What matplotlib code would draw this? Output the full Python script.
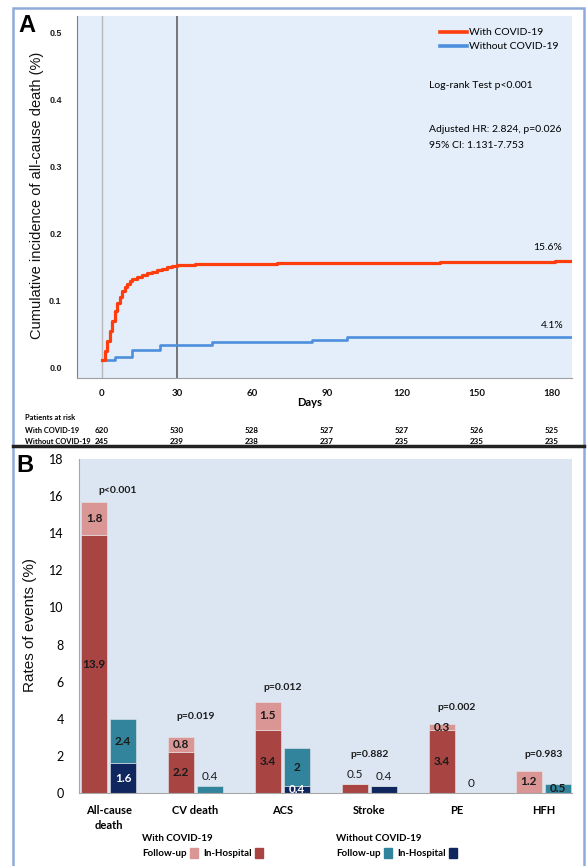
import numpy as np
import matplotlib.pyplot as plt
import matplotlib.transforms as mtransforms
from matplotlib.patches import Rectangle, Patch
from matplotlib.lines import Line2D

# ---- panel A data (Kaplan-Meier style cumulative incidence) ----
red_days = [0, 1, 2, 3, 4, 5, 6, 7, 8, 9, 10, 11, 12, 14, 16, 18, 20, 22,
            24, 26, 28, 30, 37, 58, 70, 135, 181, 188]
red_vals = [0.012, 0.025, 0.040, 0.055, 0.070, 0.085, 0.097, 0.106, 0.114,
            0.120, 0.125, 0.129, 0.132, 0.136, 0.139, 0.141, 0.143, 0.146,
            0.148, 0.150, 0.152, 0.153, 0.154, 0.155, 0.156, 0.157, 0.159, 0.159]
blue_days = [0, 5, 12, 23, 44, 84, 98, 188]
blue_vals = [0.012, 0.016, 0.027, 0.034, 0.038, 0.042, 0.046, 0.046]
risk_days = [0, 30, 60, 90, 120, 150, 180]
risk_with = [620, 530, 528, 527, 527, 526, 525]
risk_without = [245, 239, 238, 237, 235, 235, 235]

# ---- panel B data (rates of events, %) ----
categories = ['All-cause\ndeath', 'CV death', 'ACS', 'Stroke', 'PE', 'HFH']
with_inhosp = [13.9, 2.2, 3.4, 0.5, 3.4, 0.0]
with_follow = [1.8, 0.8, 1.5, 0.0, 0.3, 1.2]
wo_inhosp = [1.6, 0.0, 0.4, 0.4, 0.0, 0.0]
wo_follow = [2.4, 0.4, 2.0, 0.0, 0.0, 0.5]
pvalues = ['p<0.001', 'p=0.019', 'p=0.012', 'p=0.882', 'p=0.002', 'p=0.983']
p_heights = [16.3, 4.1, 5.7, 2.1, 4.6, 2.1]

W, H = 587, 866
CAL = 'Lato'
ARI = 'Liberation Sans'


def fx(x):
    return x / W


def fy(y):
    return 1 - y / H


fig = plt.figure(figsize=(W / 100, H / 100), dpi=100)
fig.patch.set_facecolor('white')

# outer frame + separator
fig.patches.append(Rectangle((fx(13), fy(872)), fx(584) - fx(13), fy(8) - fy(872),
                             transform=fig.transFigure, fill=False,
                             edgecolor='#8eaadb', lw=1.8, zorder=0))
fig.add_artist(Line2D([fx(13), fx(584)], [fy(446), fy(446)], color='#222222',
                      lw=2.5, transform=fig.transFigure))

# ================= Panel A =================
axA = fig.add_axes([fx(77), fy(378), fx(572) - fx(77), fy(16) - fy(378)])
axA.set_facecolor('#e3eefa')
axA.set_xlim(-10, 188)
axA.set_ylim(-0.015, 0.524)
for s in ['top', 'right']:
    axA.spines[s].set_visible(False)
axA.spines['left'].set_color('#7f7f7f')
axA.spines['bottom'].set_color('#a0a0a0')

axA.axvline(0, color='#b8b8b8', lw=1.0, zorder=1)
axA.axvline(30, color='#555555', lw=1.1, zorder=1)

axA.step(red_days, red_vals, where='post', color='#ff3d0d', lw=2.3,
         label='With COVID-19', zorder=3)
axA.step(blue_days, blue_vals, where='post', color='#4d8fdc', lw=1.9,
         label='Without COVID-19', zorder=2)

axA.set_xticks(risk_days)
axA.set_yticks([0.0, 0.1, 0.2, 0.3, 0.4, 0.5])
axA.set_yticklabels(['0.0', '0.1', '0.2', '0.3', '0.4', '0.5'])
axA.tick_params(axis='both', length=0)
axA.tick_params(axis='y', pad=11)
axA.tick_params(axis='x', pad=8)
for lab in axA.get_yticklabels():
    lab.set_fontfamily(ARI)
    lab.set_fontweight('bold')
    lab.set_fontsize(6.5)
    lab.set_color('#222222')
for lab in axA.get_xticklabels():
    lab.set_fontfamily(CAL)
    lab.set_fontweight('bold')
    lab.set_fontsize(7)
    lab.set_color('#111111')

fig.text(fx(37), fy(195), 'Cumulative incidence of all-cause death (%)',
         rotation=90, ha='center', va='center', fontsize=10.5, family=ARI,
         color='#111111')
fig.text(fx(27), fy(25), 'A', ha='center', va='center', fontsize=17,
         family=ARI, fontweight='bold')

legA = axA.legend(loc='upper left', bbox_to_anchor=(fx(440), fy(28)),
                  bbox_transform=fig.transFigure, frameon=False,
                  prop={'family': CAL, 'size': 7.5}, handlelength=2.6,
                  handletextpad=0.15, labelspacing=0.45, borderpad=0,
                  borderaxespad=0)
for line in legA.get_lines():
    line.set_linewidth(2.6)

fig.text(fx(429), fy(85), 'Log-rank Test p<0.001', ha='left', va='center',
         fontsize=7.5, family=CAL)
fig.text(fx(429), fy(130), 'Adjusted HR: 2.824, p=0.026', ha='left',
         va='center', fontsize=7.5, family=CAL)
fig.text(fx(429), fy(145), '95% CI: 1.131-7.753', ha='left', va='center',
         fontsize=7.5, family=CAL)
fig.text(fx(548), fy(248), '15.6%', ha='center', va='center', fontsize=7.5,
         family=CAL)
fig.text(fx(552), fy(325), '4.1%', ha='center', va='center', fontsize=7.5,
         family=CAL)

fig.text(fx(310), fy(403), 'Days', ha='center', va='center', fontsize=8,
         family=CAL, fontweight='bold')

trA = mtransforms.blended_transform_factory(axA.transData, fig.transFigure)
row_kw = dict(ha='left', va='center', fontsize=5.4, family=CAL,
              fontweight='bold')
fig.text(fx(25), fy(418), 'Patients at risk', **row_kw)
fig.text(fx(25), fy(431), 'With COVID-19', **row_kw)
fig.text(fx(25), fy(441), 'Without COVID-19', **row_kw)
for d, a, b in zip(risk_days, risk_with, risk_without):
    axA.text(d, fy(431), str(a), transform=trA, ha='center', va='center',
             fontsize=5.8, family=CAL, fontweight='bold')
    axA.text(d, fy(441), str(b), transform=trA, ha='center', va='center',
             fontsize=5.8, family=CAL, fontweight='bold')

# ================= Panel B =================
axB = fig.add_axes([fx(79), fy(793), fx(572) - fx(79), fy(459) - fy(793)])
axB.set_facecolor('#dce6f2')
axB.set_xlim(-0.34, 5.33)
axB.set_ylim(0, 18)
for s in ['top', 'right']:
    axB.spines[s].set_visible(False)
axB.spines['left'].set_color('#a6a6a6')
axB.spines['bottom'].set_color('#a6a6a6')

x = np.arange(len(categories))
bw = 0.305
off = 0.167
c_wi, c_wf = '#a84442', '#da9694'
c_oi, c_of = '#10265e', '#31849b'

axB.bar(x - off, with_inhosp, bw, color=c_wi, edgecolor='#e8e8e8', lw=0.4)
axB.bar(x - off, with_follow, bw, bottom=with_inhosp, color=c_wf,
        edgecolor='#e8e8e8', lw=0.4)
axB.bar(x + off, wo_inhosp, bw, color=c_oi, edgecolor='#e8e8e8', lw=0.4)
axB.bar(x + off, wo_follow, bw, bottom=wo_inhosp, color=c_of,
        edgecolor='#e8e8e8', lw=0.4)

lab_kw = dict(ha='center', va='center', fontsize=8.5, family=CAL,
              fontweight='bold')
top_kw = dict(ha='center', va='center', fontsize=8.5, family=CAL,
              color='#1a1a1a')
for i in range(len(categories)):
    # with COVID-19 bar
    tot_w = with_inhosp[i] + with_follow[i]
    if tot_w < 0.6:
        axB.text(x[i] - off, tot_w + 0.5, f'{tot_w:g}', **top_kw)
    else:
        if with_inhosp[i] > 0:
            axB.text(x[i] - off, with_inhosp[i] / 2, f'{with_inhosp[i]:g}',
                     color='#1a1a1a', **lab_kw)
        if with_follow[i] > 0:
            axB.text(x[i] - off, with_inhosp[i] + with_follow[i] / 2,
                     f'{with_follow[i]:g}', color='#1a1a1a', **lab_kw)
    # without COVID-19 bar
    tot = wo_inhosp[i] + wo_follow[i]
    if tot < 0.45:
        axB.text(x[i] + off, tot + 0.5, f'{tot:g}', **top_kw)
    else:
        if wo_inhosp[i] > 0:
            axB.text(x[i] + off, wo_inhosp[i] / 2, f'{wo_inhosp[i]:g}',
                     color='white', **lab_kw)
        if wo_follow[i] > 0:
            axB.text(x[i] + off, wo_inhosp[i] + wo_follow[i] / 2,
                     f'{wo_follow[i]:g}', color='#1a1a1a', **lab_kw)

for i, (p, h) in enumerate(zip(pvalues, p_heights)):
    px = x[i] + (0.1 if i == 0 else 0)
    axB.text(px, h, p, ha='center', va='center', fontsize=7.5, family=CAL,
             fontweight='bold', color='#1a1a1a')

axB.set_xticks(x)
axB.set_xticklabels(categories, family=CAL, fontsize=8, fontweight='bold',
                    linespacing=1.4)
axB.set_yticks(range(0, 19, 2))
axB.tick_params(axis='both', length=0)
axB.tick_params(axis='y', pad=11, labelsize=9)
axB.tick_params(axis='x', pad=9)
for lab in axB.get_yticklabels():
    lab.set_fontfamily(CAL)

fig.text(fx(30), fy(625), 'Rates of events (%)', rotation=90, ha='center',
         va='center', fontsize=11, family=ARI, color='#111111')
fig.text(fx(25), fy(465), 'B', ha='center', va='center', fontsize=17,
         family=ARI, fontweight='bold')

leg_kw = dict(loc='upper left', bbox_transform=fig.transFigure, frameon=False,
              ncol=2, markerfirst=False, handlelength=0.85, handleheight=1.2,
              handletextpad=0.3, columnspacing=0.6, borderpad=0,
              borderaxespad=0, alignment='left',
              prop={'family': CAL, 'size': 7, 'weight': 'bold'},
              title_fontproperties={'family': CAL, 'size': 7, 'weight': 'bold'})
leg1 = fig.legend([Patch(color=c_wf), Patch(color=c_wi)],
                  ['Follow-up', 'In-Hospital'], title='With COVID-19',
                  bbox_to_anchor=(fx(142), fy(834)), **leg_kw)
leg2 = fig.legend([Patch(color=c_of), Patch(color=c_oi)],
                  ['Follow-up', 'In-Hospital'], title='Without COVID-19',
                  bbox_to_anchor=(fx(336), fy(834)), **leg_kw)

fig.savefig('out.png', dpi=100)
